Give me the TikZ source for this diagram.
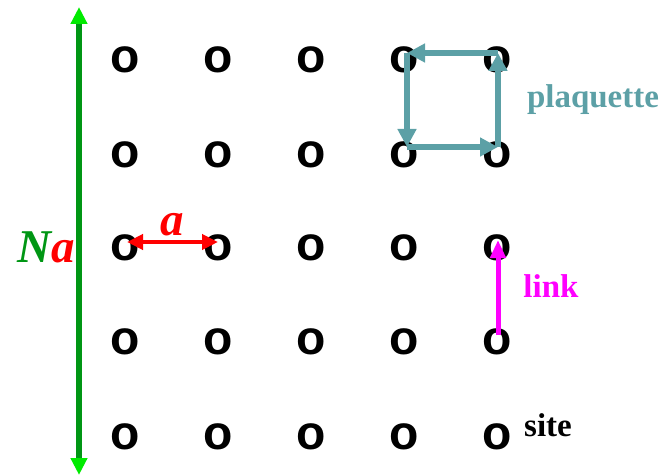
\documentclass[tikz,border=0pt]{standalone}
\usepackage{fontspec}
\setmainfont{Liberation Serif}
\newfontfamily\dotfont{Liberation Sans}
\usetikzlibrary{arrows.meta}
\definecolor{axisgreen}{RGB}{0,150,20}
\definecolor{tipgreen}{RGB}{0,235,0}
\definecolor{plaq}{RGB}{92,160,166}
\definecolor{linkpink}{RGB}{255,0,255}
\definecolor{lenred}{RGB}{255,0,0}
\begin{document}
\begin{tikzpicture}[x=1pt,y=-1pt,
  sitemark/.style={font=\dotfont\bfseries\fontsize{48}{48}\selectfont, inner sep=0pt},
  biglabel/.style={font=\bfseries\itshape\fontsize{47}{47}\selectfont, inner sep=0pt},
  smalllabel/.style={font=\bfseries\fontsize{33}{33}\selectfont, inner sep=0pt},
  plaqarrow/.style={draw=plaq, line width=6pt, -{Triangle[length=18pt,width=18pt]}},
]
\useasboundingbox (0,0) rectangle (667,476);

% lattice sites
\foreach \c/\x in {1/125,2/218,3/311,4/404,5/497}
  \foreach \r/\y in {1/60,2/155,3/248,4/342,5/437}
    \node[sitemark] (o-\c-\r) at (\x,\y) {o};

% lattice extent N a
\coordinate (ntop) at (79,7);
\coordinate (nbot) at (79,475);
\draw[axisgreen, line width=6pt,
  {Triangle[color=tipgreen,length=17pt,width=16pt]}-{Triangle[color=tipgreen,length=17pt,width=16pt]}]
  (ntop) -- (nbot);
\node[biglabel, anchor=base] (na) at (46,262) {\textcolor{axisgreen}{N}\textcolor{lenred}{a}};

% lattice spacing a
\draw[lenred, line width=4pt, {Triangle[length=16pt,width=15pt]}-{Triangle[length=16pt,width=15pt]}]
  ([xshift=2pt,yshift=6pt]o-1-3.center) -- ([xshift=0pt,yshift=6pt]o-2-3.center);
\node[biglabel, text=lenred] (alabel) at (172,225) {a};

% plaquette loop
\coordinate (tl) at ([xshift=3pt,yshift=7pt]o-4-1.center);
\coordinate (tr) at ([xshift=1pt,yshift=7pt]o-5-1.center);
\coordinate (bl) at ([xshift=3pt,yshift=8pt]o-4-2.center);
\coordinate (br) at ([xshift=1pt,yshift=8pt]o-5-2.center);
\draw[plaqarrow] (tr) -- (tl);
\draw[plaqarrow] (tl) -- (bl);
\draw[plaqarrow] (bl) -- (br);
\draw[plaqarrow] (br) -- (tr);
\node[smalllabel, text=plaq] (plabel) at (593,100) {plaquette};

% link
\draw[linkpink, line width=5pt, -{Triangle[length=18pt,width=15pt]}]
  ([xshift=1pt,yshift=7pt]o-5-4.center) -- ([xshift=1pt,yshift=8pt]o-5-3.center);
\node[smalllabel, text=linkpink, anchor=base] (llabel) at (551,297) {link};

% site
\node[smalllabel, anchor=base] (slabel) at (548,436) {site};
\end{tikzpicture}
\end{document}
